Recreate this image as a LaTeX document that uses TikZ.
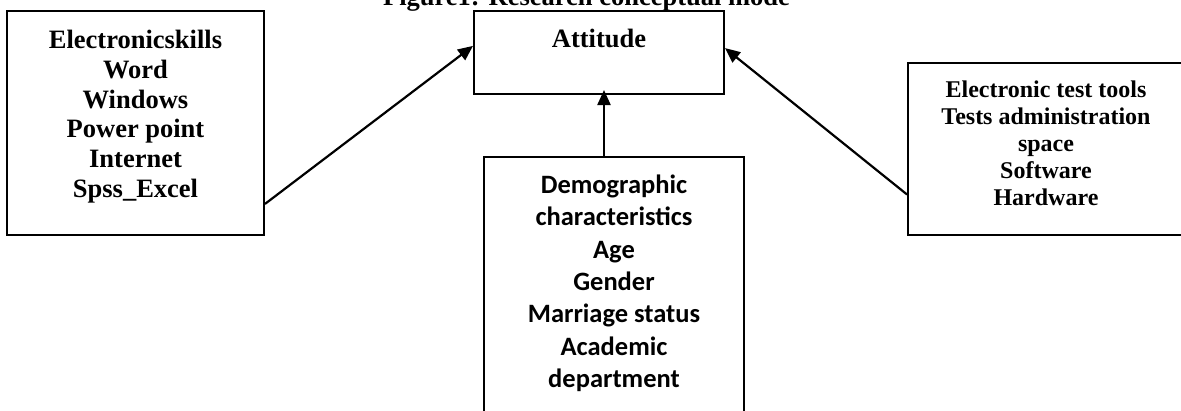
\documentclass[tikz,border=0pt]{standalone}
\usepackage{fontspec}
\setmainfont{Liberation Serif}
\newfontfamily\carlito{Carlito}
\usetikzlibrary{arrows.meta,positioning,calc}

\begin{document}
\begin{tikzpicture}[x=1pt, y=-1pt,
  box/.style={draw, line width=2pt, inner sep=0pt},
  arr/.style={line width=2.2pt, -{Triangle[length=15pt,width=13pt]}},
  tms/.style={font=\fontsize{26.5}{29.8}\selectfont\bfseries, align=center, inner sep=0pt},
  tmssmall/.style={font=\fontsize{24}{27.1}\selectfont\bfseries, align=center, inner sep=0pt},
  cal/.style={font=\carlito\fontsize{26.5}{32.4}\selectfont\bfseries, align=center, inner sep=0pt}]
  \useasboundingbox (0,0) rectangle (1181,410);
  % title, cut at the top
  \node[tms, anchor=base] (title) at (586.5,5) {Figure1: Research conceptual mode};
  % boxes
  \node[box, minimum width=257pt, minimum height=224pt] (skills) at (135.5,123) {};
  \node[tms, anchor=north] (skillsT) at (135.5,30)
    {Electronicskills\\Word\\Windows\\Power point\\Internet\\Spss\_Excel};
  \node[box, minimum width=250pt, minimum height=83pt] (att) at (599,52.5) {};
  \node[tms, anchor=base] (attT) at (599,47) {Attitude};
  \node[box, minimum width=260pt, minimum height=259pt] (demo) at (614,286.5) {};
  \node[cal, anchor=north] (demoT) at (614,174.5)
    {Demographic\\characteristics\\Age\\Gender\\Marriage status\\Academic\\department};
  \node[box, minimum width=278pt, minimum height=172pt] (tools) at (1047,149) {};
  \node[tmssmall, anchor=north] (toolsT) at (1046,80.7)
    {Electronic test tools\\Tests administration\\space\\Software\\Hardware};
  % arrows
  \draw[arr] (skills.-32.5) -- (att.177.5);
  \draw[arr, shorten >=-5pt] ([xshift=-10pt]demo.north) -- ([xshift=5pt]att.south);
  \draw[arr] (tools.198) -- (att.2.5);
\end{tikzpicture}
\end{document}
